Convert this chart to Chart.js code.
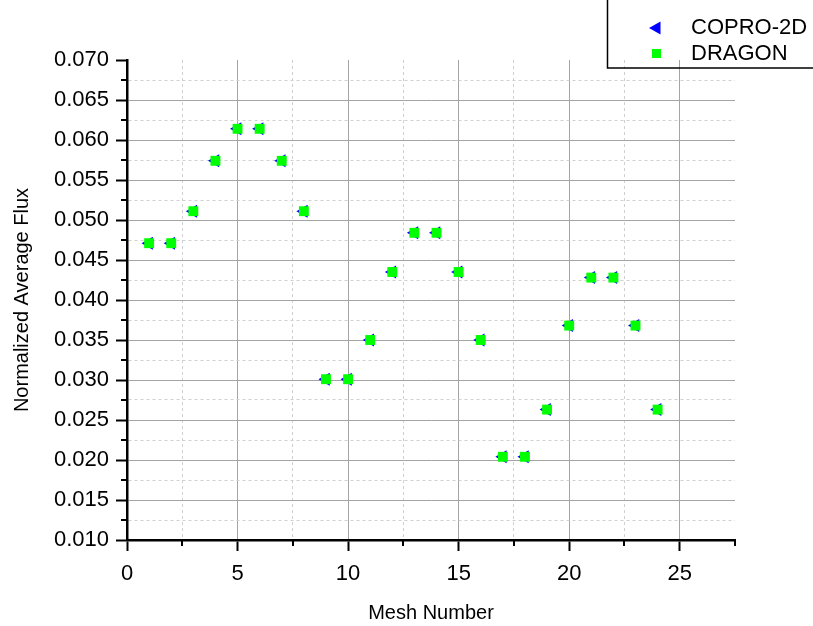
<!DOCTYPE html>
<html>
<head>
<meta charset="utf-8">
<script src="https://cdn.jsdelivr.net/npm/chart.js@4.4.0/dist/chart.umd.min.js"></script>
<style>
  html, body { margin: 0; padding: 0; background: #fff; }
</style>
</head>
<body>
<canvas id="fluxChart" width="813" height="626"></canvas>
<script>
// mesh index along x
const meshNumbers = [1, 2, 3, 4, 5, 6, 7, 8, 9, 10, 11, 12, 13, 14, 15, 16, 17, 18, 19, 20, 21, 22, 23, 24];

// normalized average flux per mesh
const coproFlux = [0.0471, 0.0471, 0.0511, 0.0574, 0.0614, 0.0614, 0.0574, 0.0511, 0.0301, 0.0301, 0.0350, 0.0435,
                   0.0484, 0.0484, 0.0435, 0.0350, 0.0204, 0.0204, 0.0263, 0.0368, 0.0428, 0.0428, 0.0368, 0.0263];
const dragonFlux = [0.0471, 0.0471, 0.0511, 0.0574, 0.0614, 0.0614, 0.0574, 0.0511, 0.0301, 0.0301, 0.0350, 0.0435,
                    0.0484, 0.0484, 0.0435, 0.0350, 0.0204, 0.0204, 0.0263, 0.0368, 0.0428, 0.0428, 0.0368, 0.0263];

const seriesNames = ['COPRO-2D', 'DRAGON'];

const FONT = "'Liberation Sans', Arial, sans-serif";

const isMajorX = v => Math.round(v * 10) % 50 === 0;
const isMajorY = v => Math.round(v * 10000) % 50 === 0;

const toPoints = ys => meshNumbers.map((m, i) => ({ x: m, y: ys[i] }));

const gridColor = (ctx, isMajor, max) => {
  if (!ctx.tick) return 'rgba(0,0,0,0)';
  const v = ctx.tick.value;
  if (Math.abs(v - max) < 1e-9) return 'rgba(0,0,0,0)';
  return isMajor(v) ? '#a4a4a4' : '#d0d0d0';
};

// short ticks for minor values
const minorTicks = {
  id: 'minorTicks',
  afterDraw(chart) {
    const { ctx, scales: { x, y } } = chart;
    ctx.save();
    ctx.strokeStyle = '#000';
    ctx.lineWidth = 2;
    ctx.beginPath();
    x.ticks.forEach(t => {
      if (isMajorX(t.value)) return;
      const px = Math.round(x.getPixelForValue(t.value));
      ctx.moveTo(px, x.top);
      ctx.lineTo(px, x.top + 6);
    });
    y.ticks.forEach(t => {
      if (isMajorY(t.value)) return;
      const py = Math.round(y.getPixelForValue(t.value));
      ctx.moveTo(y.right, py);
      ctx.lineTo(y.right - 6, py);
    });
    ctx.stroke();
    ctx.restore();
  }
};

// boxed legend in the top right corner
const boxLegend = {
  id: 'boxLegend',
  afterDraw(chart) {
    const ctx = chart.ctx;
    ctx.save();
    ctx.strokeStyle = '#000';
    ctx.lineWidth = 1.5;
    ctx.strokeRect(607.5, -2, 220, 70);

    ctx.fillStyle = '#0000ff';
    ctx.beginPath();
    ctx.moveTo(649, 28);
    ctx.lineTo(660.5, 21.5);
    ctx.lineTo(660.5, 34.5);
    ctx.closePath();
    ctx.fill();

    ctx.fillStyle = '#00ff00';
    ctx.fillRect(652, 49, 9, 9);

    ctx.fillStyle = '#000';
    ctx.font = '22px ' + FONT;
    ctx.textBaseline = 'middle';
    ctx.fillText(seriesNames[0], 691, 28);
    ctx.fillText(seriesNames[1], 691, 54);
    ctx.restore();
  }
};

new Chart(document.getElementById('fluxChart'), {
  type: 'scatter',
  data: {
    datasets: [
      {
        label: seriesNames[0],
        data: toPoints(coproFlux),
        pointStyle: 'triangle',
        rotation: -90,
        radius: 7.5,
        backgroundColor: '#0000ff',
        borderColor: '#0000ff',
        borderWidth: 0,
        order: 1
      },
      {
        label: seriesNames[1],
        data: toPoints(dragonFlux),
        pointStyle: 'rect',
        radius: 7,
        backgroundColor: '#00ff00',
        borderColor: '#00ff00',
        borderWidth: 0,
        order: 0
      }
    ]
  },
  options: {
    responsive: false,
    animation: false,
    layout: { padding: { top: 60, right: 78, left: 0, bottom: 0 } },
    plugins: {
      legend: { display: false },
      tooltip: { enabled: false }
    },
    scales: {
      x: {
        type: 'linear',
        min: 0,
        max: 27.5,
        afterFit: s => { s.height = 86; },
        ticks: {
          stepSize: 2.5,
          autoSkip: false,
          maxRotation: 0,
          padding: 10,
          color: '#000',
          font: { family: FONT, size: 22 },
          callback: v => (isMajorX(v) ? String(Math.round(v)) : '')
        },
        grid: {
          color: ctx => gridColor(ctx, isMajorX, 27.5),
          lineWidth: 1,
          tickLength: 11,
          tickWidth: 2,
          tickColor: ctx => (ctx.tick && isMajorX(ctx.tick.value) ? '#000' : 'rgba(0,0,0,0)')
        },
        border: {
          color: '#000',
          width: 2.5,
          dash: ctx => (ctx.tick && !isMajorX(ctx.tick.value) ? [3, 3] : [])
        },
        title: {
          display: true,
          text: 'Mesh Number',
          color: '#000',
          font: { family: FONT, size: 20 },
          padding: { top: 0, bottom: 1 }
        }
      },
      y: {
        type: 'linear',
        min: 0.010,
        max: 0.070,
        afterFit: s => { s.width = 127; },
        ticks: {
          stepSize: 0.0025,
          autoSkip: false,
          maxTicksLimit: 100,
          padding: 7,
          color: '#000',
          font: { family: FONT, size: 22 },
          callback: v => (isMajorY(v) ? v.toFixed(3) : '')
        },
        grid: {
          color: ctx => gridColor(ctx, isMajorY, 0.070),
          lineWidth: 1,
          tickLength: 11,
          tickWidth: 2,
          tickColor: ctx => (ctx.tick && isMajorY(ctx.tick.value) ? '#000' : 'rgba(0,0,0,0)')
        },
        border: {
          color: '#000',
          width: 2.5,
          dash: ctx => (ctx.tick && !isMajorY(ctx.tick.value) ? [3, 3] : [])
        },
        title: {
          display: true,
          text: 'Normalized Average Flux',
          color: '#000',
          font: { family: FONT, size: 20 },
          padding: { top: 10, bottom: 0 }
        }
      }
    }
  },
  plugins: [minorTicks, boxLegend]
});
</script>
</body>
</html>
